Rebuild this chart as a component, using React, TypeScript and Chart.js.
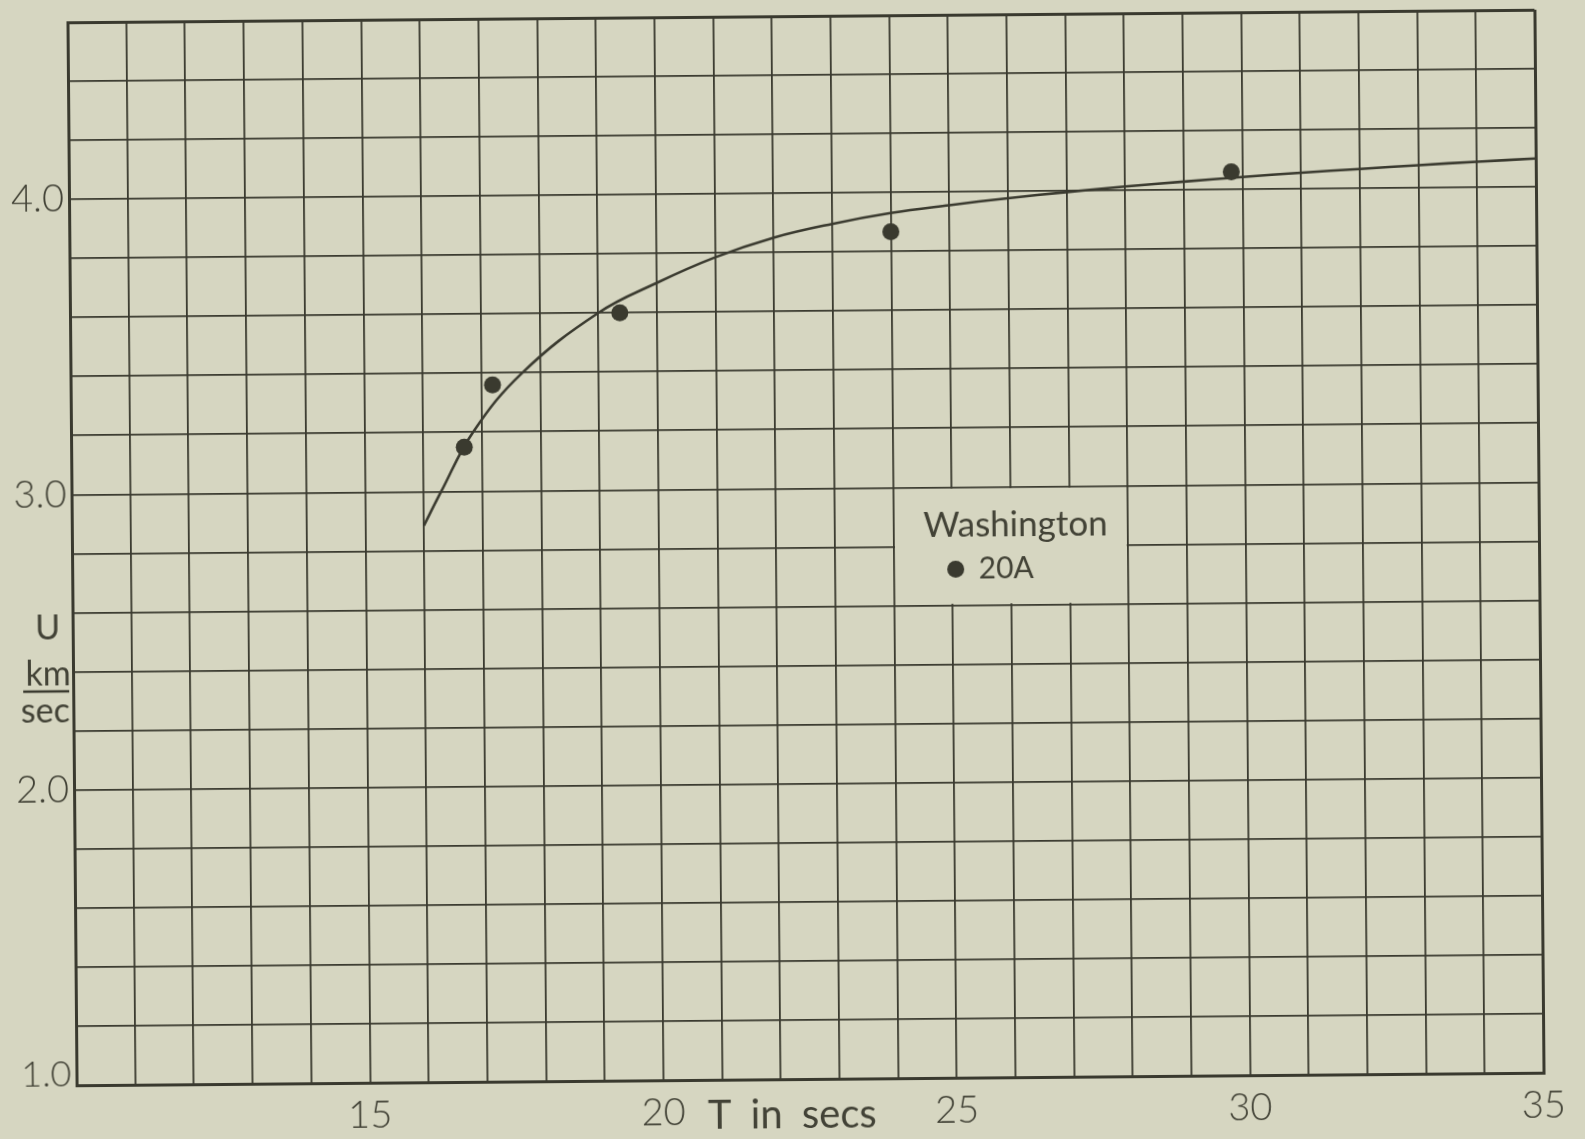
import React, { useEffect, useRef } from "react";
import { Chart, registerables } from "chart.js";

Chart.register(...registerables);

// ---- data ----
const periodSecs = [16.7, 17.19, 19.37, 24.0, 29.81];
const groupVelocity = [3.15, 3.36, 3.6, 3.867, 4.06];

const curvePeriod = [16.0, 16.3, 16.85, 17.7, 19.0, 20, 21, 22, 23, 24, 25, 26, 27, 28, 29, 30, 31, 32, 33, 34, 35];
const curveVelocity = [2.885, 3.0, 3.2, 3.4, 3.6, 3.7, 3.785, 3.85, 3.895, 3.93, 3.955, 3.977, 3.996, 4.013, 4.028, 4.042, 4.055, 4.066, 4.077, 4.087, 4.096];

const xTickLabels = ["15", "20", "25", "30", "35"];
const yTickLabels = ["1.0", "2.0", "3.0", "4.0"];

const legendTitle = "Washington";
const seriesLabel = "20A";
const xAxisTitle = "T in secs";
const yAxisTitle = ["U", "km", "sec"];

const X_MIN = 10, X_MAX = 35, X_STEP = 1;
const Y_MIN = 1.0, Y_MAX = 4.6, Y_STEP = 0.2;

// ---- styles ----
const BG = "#d6d6c1";
const INK = "#3a3a2f";
const TEXT = "#424236";
const FONT = "Lato, 'Open Sans', 'DejaVu Sans', sans-serif";

const labelFor = (list: string[], v: number) => {
  const hit = list.find((s) => Math.abs(parseFloat(s) - v) < 1e-6);
  return hit ?? "";
};

const decorPlugin = {
  id: "decor",
  afterDatasetsDraw(chart: any) {
    const { ctx, scales } = chart;
    const xs = scales.x;
    const ys = scales.y;
    ctx.save();

    // legend box (covers the grid cells between x 24..28, y 2.6..3.0)
    const l = xs.getPixelForValue(24);
    const r = xs.getPixelForValue(28);
    const t = ys.getPixelForValue(3.0);
    const b = ys.getPixelForValue(2.6);
    ctx.fillStyle = BG;
    ctx.fillRect(l + 1.5, t + 1.5, r - l - 3, b - t - 3);

    ctx.fillStyle = TEXT;
    ctx.textBaseline = "middle";
    ctx.textAlign = "left";
    ctx.font = `35px ${FONT}`;
    ctx.fillText(legendTitle, l + 30, t + 38);

    ctx.fillStyle = INK;
    ctx.beginPath();
    ctx.arc(l + 62, t + 82, 8.5, 0, Math.PI * 2);
    ctx.fill();
    ctx.fillStyle = TEXT;
    ctx.font = `30px ${FONT}`;
    ctx.fillText(seriesLabel, l + 85, t + 82);

    // y-axis title, stacked "U / km over sec"
    const cx = chart.chartArea.left - 25;
    ctx.textAlign = "center";
    ctx.font = `34px ${FONT}`;
    ctx.fillText(yAxisTitle[0], cx, 622);
    ctx.fillText(yAxisTitle[1], cx, 668);
    ctx.strokeStyle = INK;
    ctx.lineWidth = 2.5;
    ctx.beginPath();
    ctx.moveTo(cx - 25, 685);
    ctx.lineTo(cx + 21, 685);
    ctx.stroke();
    ctx.fillText(yAxisTitle[2], cx - 3, 705);

    // x-axis title
    ctx.textAlign = "left";
    ctx.font = `40px ${FONT}`;
    (ctx as any).wordSpacing = "9px";
    ctx.fillText(xAxisTitle, 703, 1115);

    ctx.restore();
  },
};

export default function App() {
  const ref = useRef<HTMLCanvasElement | null>(null);

  useEffect(() => {
    if (!ref.current) return;
    const chart = new Chart(ref.current, {
      type: "scatter",
      data: {
        datasets: [
          {
            type: "scatter",
            label: seriesLabel,
            data: periodSecs.map((x, i) => ({ x, y: groupVelocity[i] })),
            backgroundColor: INK,
            borderWidth: 0,
            pointRadius: 8.5,
            pointHoverRadius: 8.5,
          },
          {
            type: "line",
            label: "curve",
            data: curvePeriod.map((x, i) => ({ x, y: curveVelocity[i] })),
            borderColor: INK,
            borderWidth: 2.6,
            pointRadius: 0,
            fill: false,
            tension: 0.4,
          } as any,
        ],
      },
      options: {
        animation: false,
        responsive: false,
        devicePixelRatio: 1,
        layout: { padding: { top: 16, right: 46, bottom: 0, left: 0 } },
        plugins: { legend: { display: false }, tooltip: { enabled: false } },
        scales: {
          x: {
            type: "linear",
            min: X_MIN,
            max: X_MAX,
            afterFit: (s: any) => {
              s.height = 60;
              s.paddingLeft = 0;
              s.paddingRight = 0;
            },
            border: { display: true, color: INK, width: 3 },
            grid: {
              color: INK,
              lineWidth: (c: any) => (c.tick && (c.tick.value === X_MIN || c.tick.value === X_MAX) ? 3 : 1.8),
              drawTicks: false,
            },
            ticks: {
              stepSize: X_STEP,
              autoSkip: false,
              maxRotation: 0,
              padding: 10,
              color: TEXT,
              font: { family: FONT, size: 38, weight: 300 as any },
              callback: (v: any) => labelFor(xTickLabels, Number(v)),
            },
          },
          y: {
            type: "linear",
            min: Y_MIN,
            max: Y_MAX,
            afterFit: (s: any) => {
              s.width = 72;
              s.paddingTop = 0;
              s.paddingBottom = 0;
            },
            border: { display: true, color: INK, width: 3 },
            grid: {
              color: INK,
              lineWidth: (c: any) => (c.tick && (Math.abs(c.tick.value - Y_MIN) < 1e-6 || Math.abs(c.tick.value - Y_MAX) < 1e-6) ? 3 : 1.8),
              drawTicks: false,
            },
            ticks: {
              stepSize: Y_STEP,
              autoSkip: false,
              padding: 5,
              color: TEXT,
              font: (c: any) =>
                c.tick && Math.abs(c.tick.value - Y_MIN) < 1e-6
                  ? { family: FONT, size: 36, weight: 300 as any, lineHeight: 0.6 }
                  : { family: FONT, size: 38, weight: 300 as any },
              callback: (v: any) => {
                const s = labelFor(yTickLabels, Number(v));
                // the bottom label sits a little above the axis line in the original
                return Math.abs(Number(v) - Y_MIN) < 1e-6 ? [s, ""] : s;
              },
            },
          },
        },
      },
      plugins: [decorPlugin],
    });
    return () => chart.destroy();
  }, []);

  return (
    <div style={{ position: "fixed", left: 0, top: 0, width: 1585, height: 1139, background: BG, overflow: "hidden" }}>
      <canvas
        ref={ref}
        width={1585}
        height={1139}
        style={{
          display: "block",
          width: 1585,
          height: 1139,
          transform: "rotate(-0.49deg)",
          transformOrigin: "805.5px 547.25px",
        }}
      />
    </div>
  );
}
